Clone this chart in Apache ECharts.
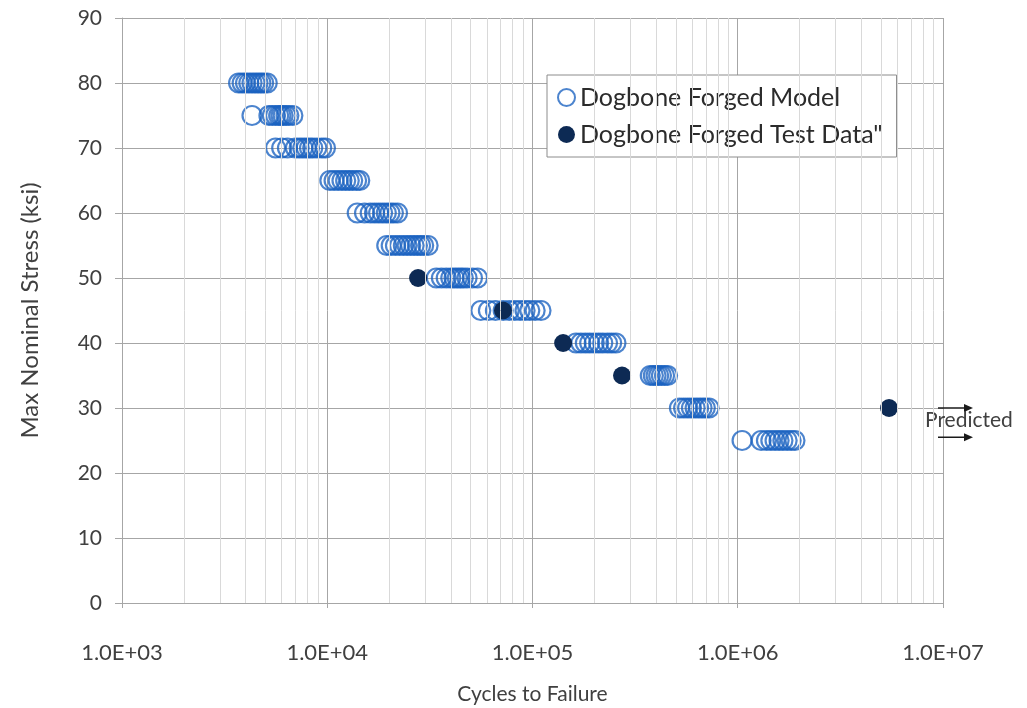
<!DOCTYPE html>
<html>
<head>
<meta charset="utf-8">
<script src="https://cdn.jsdelivr.net/npm/echarts@6/dist/echarts.min.js"></script>
<style>
html,body{margin:0;padding:0;background:#fff;}
#c{width:1027px;height:708px;}
</style>
</head>
<body>
<div id="c"></div>
<script>
// Model predictions: cycles at each stress level (ksi)
const modelStress80 = [3700, 3850, 4000, 4150, 4300, 4450, 4600, 4750, 4900, 5100];
const modelStress75 = [4300, 5200, 5400, 5600, 5800, 5950, 6100, 6300, 6500, 6800];
const modelStress70 = [5600, 6000, 6400, 7000, 7300, 7600, 7900, 8200, 8500, 8900, 9400, 9800];
const modelStress65 = [10300, 10800, 11300, 11800, 12300, 12800, 13300, 13900, 14400];
const modelStress60 = [14000, 15200, 16200, 17000, 17800, 18600, 19400, 20200, 21000, 22000];
const modelStress55 = [19500, 20500, 21500, 22500, 23500, 24500, 25500, 26500, 27500, 28500, 29500, 31000];
const modelStress50 = [34000, 36000, 38000, 40000, 41500, 43000, 44500, 46000, 48000, 51000, 54000];
const modelStress45 = [56000, 61000, 66000, 72000, 77000, 82000, 87000, 92000, 97000, 103000, 110000];
const modelStress40 = [163000, 172000, 181000, 190000, 200000, 210000, 220000, 232000, 243000, 255000];
const modelStress35 = [375000, 388000, 400000, 412000, 425000, 440000, 455000];
const modelStress30 = [520000, 545000, 570000, 595000, 620000, 645000, 670000, 695000, 725000];
const modelStress25 = [1050000, 1300000, 1380000, 1450000, 1520000, 1590000, 1660000, 1740000, 1820000, 1900000];

// Test data
const testCycles = [27700, 71800, 141000, 273000, 5460000];
const testStress = [50, 45, 40, 35, 30];

const xTickLabels = ['1.0E+03', '1.0E+04', '1.0E+05', '1.0E+06', '1.0E+07'];
const yTicks = [0, 10, 20, 30, 40, 50, 60, 70, 80, 90];
const minorMultipliers = [2, 3, 4, 5, 6, 7, 8, 9];
const decades = [1000, 10000, 100000, 1000000];

const modelRows = [
  [80, modelStress80], [75, modelStress75], [70, modelStress70], [65, modelStress65],
  [60, modelStress60], [55, modelStress55], [50, modelStress50], [45, modelStress45],
  [40, modelStress40], [35, modelStress35], [30, modelStress30], [25, modelStress25]
];
const modelData = [];
modelRows.forEach(r => r[1].forEach(c => modelData.push([c, r[0]])));
const testData = testCycles.map((c, i) => [c, testStress[i]]);

const minorLines = [];
decades.forEach(d => minorMultipliers.forEach(m => minorLines.push({xAxis: d * m})));

const FONT = 'Lato, "Open Sans", sans-serif';
const chart = echarts.init(document.getElementById('c'));
chart.setOption({
  animation: false,
  backgroundColor: '#ffffff',
  grid: {left: 122, right: 84, top: 18, bottom: 105, containLabel: false, outerBoundsMode: 'none'},
  legend: {
    data: ['Dogbone Forged Model', 'Dogbone Forged Test Data"'],
    orient: 'vertical',
    left: 547, top: 75,
    backgroundColor: '#ffffff',
    borderColor: '#8c8c8c', borderWidth: 1,
    padding: [10, 14, 10, 10],
    itemGap: 12,
    itemWidth: 17, itemHeight: 17,
    textStyle: {fontFamily: FONT, fontSize: 25, color: '#2b2b2b'}
  },
  xAxis: {
    type: 'log', logBase: 10, min: 1000, max: 10000000,
    name: 'Cycles to Failure', nameLocation: 'middle', nameGap: 81,
    nameTextStyle: {fontFamily: FONT, fontSize: 21, color: '#404040'},
    axisLine: {show: true, lineStyle: {color: '#a6a6a6', width: 1}},
    axisTick: {show: true, length: 5, lineStyle: {color: '#a6a6a6'}},
    axisLabel: {
      margin: 39, fontFamily: FONT, fontSize: 22, color: '#404040',
      formatter: v => xTickLabels[Math.round(Math.log10(v)) - 3]
    },
    splitLine: {show: true, lineStyle: {color: '#a6a6a6', width: 1}}
  },
  yAxis: {
    type: 'value', min: 0, max: 90, interval: 10,
    name: 'Max Nominal Stress (ksi)', nameLocation: 'middle', nameGap: 80,
    nameTextStyle: {fontFamily: FONT, fontSize: 24, color: '#404040'},
    axisLine: {show: true, lineStyle: {color: '#a6a6a6', width: 1}},
    axisTick: {show: true, length: 7, lineStyle: {color: '#a6a6a6'}},
    axisLabel: {margin: 20, fontFamily: FONT, fontSize: 21, color: '#404040',
      formatter: v => String(yTicks[Math.round(v / 10)])},
    splitLine: {show: true, lineStyle: {color: '#a6a6a6', width: 1}}
  },
  series: [
    {
      name: 'minor', type: 'line', data: [], z: 1, silent: true,
      markLine: {
        silent: true, symbol: 'none', animation: false,
        label: {show: false},
        lineStyle: {color: '#d9d9d9', width: 1, type: 'solid'},
        data: minorLines
      }
    },
    {
      name: 'Dogbone Forged Model', type: 'scatter', z: 3,
      symbol: 'circle', symbolSize: 19,
      itemStyle: {color: 'rgba(255,255,255,0)', borderColor: '#1a62c0', borderWidth: 2.2, opacity: 0.78},
      data: modelData
    },
    {
      name: 'Dogbone Forged Test Data"', type: 'scatter', z: 4,
      symbol: 'circle', symbolSize: 18,
      itemStyle: {color: '#0d2a54', opacity: 1},
      data: testData
    }
  ]
});

// "Predicted" annotation placed via the axis scales
const pA = chart.convertToPixel({gridIndex: 0}, [10000000, 30]);
const pB = chart.convertToPixel({gridIndex: 0}, [10000000, 25.5]);
function arrow(x0, x1, y) {
  return [
    {type: 'line', shape: {x1: x0, y1: y, x2: x1 - 7, y2: y}, style: {stroke: '#1a1a1a', lineWidth: 1.5}},
    {type: 'polygon', shape: {points: [[x1, y], [x1 - 9, y - 4], [x1 - 9, y + 4]]}, style: {fill: '#1a1a1a'}}
  ];
}
chart.setOption({
  graphic: [].concat(
    arrow(pA[0] - 5, pA[0] + 30, pA[1]),
    arrow(pB[0] - 5, pB[0] + 30, pB[1]),
    [{type: 'text', left: pA[0] - 18, top: pA[1] + 2,
      style: {text: 'Predicted', fill: '#404040', font: '21px ' + FONT}}]
  )
});
</script>
</body>
</html>
